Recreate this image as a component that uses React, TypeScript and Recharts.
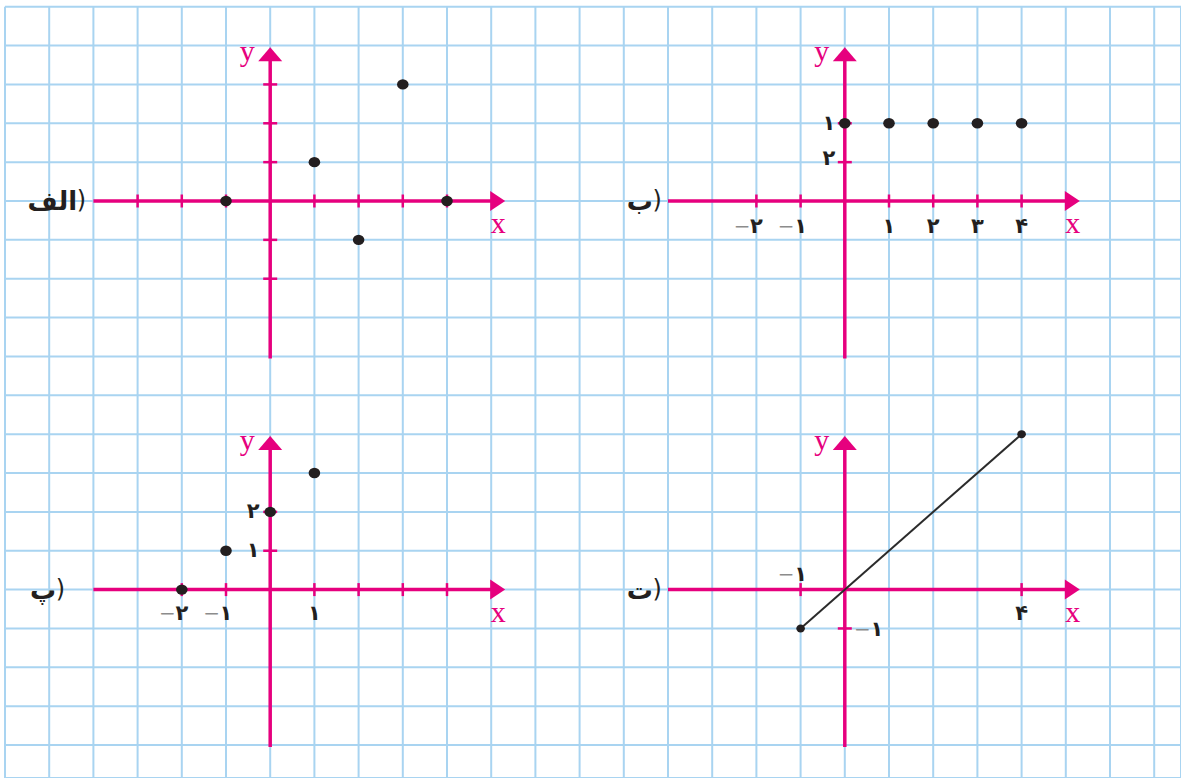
import {
  ScatterChart,
  Scatter,
  XAxis,
  YAxis,
  CartesianGrid,
  ReferenceLine,
  ReferenceDot,
} from "recharts";

// squared paper: one tick per grid line (cell index)
const GRID_COLS = [0, 1, 2, 3, 4, 5, 6, 7, 8, 9, 10, 11, 12, 13, 14, 15, 16, 17, 18, 19, 20, 21, 22, 23, 24, 25, 26];
const GRID_ROWS = [0, 1, 2, 3, 4, 5, 6, 7, 8, 9, 10, 11, 12, 13, 14, 15, 16, 17, 18, 19];

// (الف)
const ALEF_X = [-1, 1, 2, 3, 4];
const ALEF_Y = [0, 1, -1, 3, 0];
const ALEF_X_TICKS = [-3, -2, -1, 1, 2, 3, 4];
const ALEF_Y_TICKS = [-2, -1, 1, 2, 3];

// (ب)
const BE_X = [0, 1, 2, 3, 4];
const BE_Y = [2, 2, 2, 2, 2];
const BE_X_TICKS = [-2, -1, 1, 2, 3, 4];
const BE_X_LABELS = ["−۲", "−۱", "۱", "۲", "۳", "۴"];
const BE_Y_TICKS = [1, 2];
const BE_Y_LABELS = ["۲", "۱"];

// (پ)
const PE_X = [-2, -1, 0, 1];
const PE_Y = [0, 1, 2, 3];
const PE_X_TICKS = [-2, -1, 1, 2, 3, 4];
const PE_X_LABEL_AT = [-2, -1, 1];
const PE_X_LABELS = ["−۲", "−۱", "۱"];
const PE_Y_TICKS = [1, 2];
const PE_Y_LABELS = ["۱", "۲"];

// (ت) segment
const TE_X = [-1, 4];
const TE_Y = [-1, 4];
const TE_X_TICKS = [-1, 4];
const TE_X_LABELS = ["−۱", "۴"];
const TE_Y_TICKS = [-1];
const TE_Y_LABELS = ["−۱"];

const W = 1181;
const H = 778;
const CELL_W = 44.2;
const CELL_H = 38.86;
const MARGIN = { top: 6.7, right: 0, bottom: 0, left: 5 };

const PINK = "#e6007e";
const GRID = "#a9d4f1";
const INK = "#231f20";
const MINUS = "#8c8c8c";
const DIGIT_FONT = "'DejaVu Sans', sans-serif";

// axis extent in panel units
const AXIS_MIN = -4;
const X_ARROW = 5;
const Y_ARROW = 3.62;
const Y_MIN = -4.05;

type Label = { at: number; text: string; dx: number; dy: number };

type Panel = {
  name: string;
  col: number;
  row: number;
  nameDx: number;
  xs: number[];
  ys: number[];
  xTicks: number[];
  yTicks: number[];
  xLabels: Label[];
  yLabels: Label[];
  line?: boolean;
  dotRx: number;
  dotRy: number;
};

const PANELS: Panel[] = [
  {
    name: "الف",
    col: 6,
    row: 5,
    nameDx: -184,
    xs: ALEF_X,
    ys: ALEF_Y,
    xTicks: ALEF_X_TICKS,
    yTicks: ALEF_Y_TICKS,
    xLabels: [],
    yLabels: [],
    dotRx: 5.8,
    dotRy: 5.2,
  },
  {
    name: "ب",
    col: 19,
    row: 5,
    nameDx: -183,
    xs: BE_X,
    ys: BE_Y,
    xTicks: BE_X_TICKS,
    yTicks: BE_Y_TICKS,
    xLabels: BE_X_TICKS.map((at, i) => ({ at, text: BE_X_LABELS[i], dx: 0, dy: 25 })),
    yLabels: BE_Y_TICKS.map((at, i) => ({ at, text: BE_Y_LABELS[i], dx: -16, dy: i === 0 ? -4 : 0 })),
    dotRx: 5.8,
    dotRy: 5.2,
  },
  {
    name: "پ",
    col: 6,
    row: 15,
    nameDx: -205,
    xs: PE_X,
    ys: PE_Y,
    xTicks: PE_X_TICKS,
    yTicks: PE_Y_TICKS,
    xLabels: PE_X_LABEL_AT.map((at, i) => ({ at, text: PE_X_LABELS[i], dx: 0, dy: 23 })),
    yLabels: PE_Y_TICKS.map((at, i) => ({ at, text: PE_Y_LABELS[i], dx: -17, dy: -1 })),
    dotRx: 5.8,
    dotRy: 5.2,
  },
  {
    name: "ت",
    col: 19,
    row: 15,
    nameDx: -183,
    xs: TE_X,
    ys: TE_Y,
    xTicks: TE_X_TICKS,
    yTicks: TE_Y_TICKS,
    xLabels: TE_X_TICKS.map((at, i) => ({ at, text: TE_X_LABELS[i], dx: 0, dy: at < 0 ? -16 : 23 })),
    yLabels: TE_Y_TICKS.map((at, i) => ({ at, text: TE_Y_LABELS[i], dx: 32, dy: 1 })),
    line: true,
    dotRx: 4.3,
    dotRy: 4,
  },
];

function digitLabel(text: string, dx: number, dy: number) {
  return (p: any) => {
    const neg = text.startsWith("−");
    const digit = neg ? text.slice(1) : text;
    const x = p.cx + dx;
    const y = p.cy + dy;
    return (
      <g>
        {neg && (
          <text x={x - 6} y={y} textAnchor="end" dominantBaseline="central" fontFamily={DIGIT_FONT} fontSize={20} fill={MINUS}>
            −
          </text>
        )}
        <text x={x} y={y} textAnchor="middle" dominantBaseline="central" fontFamily={DIGIT_FONT} fontWeight="bold" fontSize={21} fill={INK}>
          {digit}
        </text>
      </g>
    );
  };
}

const xTick = (p: any) => (
  <line x1={p.cx} x2={p.cx} y1={p.cy - 6.5} y2={p.cy + 6.5} stroke={PINK} strokeWidth={2.5} />
);
const yTick = (p: any) => (
  <line x1={p.cx - 7} x2={p.cx + 7} y1={p.cy} y2={p.cy} stroke={PINK} strokeWidth={2.5} />
);
const xArrow = (p: any) => (
  <polygon points={`${p.cx - 1},${p.cy - 10} ${p.cx + 14},${p.cy} ${p.cx - 1},${p.cy + 10}`} fill={PINK} />
);
const yArrow = (p: any) => (
  <polygon points={`${p.cx - 12},${p.cy + 1} ${p.cx},${p.cy - 13} ${p.cx + 12},${p.cy + 1}`} fill={PINK} />
);

function renderPanel(p: Panel, k: number) {
  const c = (x: number) => p.col + x;
  const r = (y: number) => p.row - y;
  const items: any[] = [];
  items.push(
    <ReferenceLine
      key={`xa${k}`}
      segment={[{ x: c(AXIS_MIN), y: r(0) }, { x: c(X_ARROW), y: r(0) }]}
      stroke={PINK}
      strokeWidth={3.5}
    />,
    <ReferenceLine
      key={`ya${k}`}
      segment={[{ x: c(0), y: r(Y_MIN) }, { x: c(0), y: r(Y_ARROW) }]}
      stroke={PINK}
      strokeWidth={3.5}
    />,
    <ReferenceDot key={`xar${k}`} x={c(X_ARROW)} y={r(0)} r={0} shape={xArrow} />,
    <ReferenceDot key={`yar${k}`} x={c(0)} y={r(Y_ARROW)} r={0} shape={yArrow} />
  );
  p.xTicks.forEach((t) =>
    items.push(<ReferenceDot key={`xt${k}_${t}`} x={c(t)} y={r(0)} r={0} shape={xTick} />)
  );
  p.yTicks.forEach((t) =>
    items.push(<ReferenceDot key={`yt${k}_${t}`} x={c(0)} y={r(t)} r={0} shape={yTick} />)
  );
  return items;
}

function renderLabels(p: Panel, k: number) {
  const c = (x: number) => p.col + x;
  const r = (y: number) => p.row - y;
  const items: any[] = [];
  items.push(
    <ReferenceDot
      key={`nm${k}`}
      x={c(0)}
      y={r(0)}
      r={0}
      shape={(q: any) => (
        <g fontFamily={DIGIT_FONT} fontWeight="bold" fontSize={26} fill={INK}>
          <text x={q.cx + p.nameDx - 9} y={q.cy} textAnchor="end" dominantBaseline="central">
            {p.name}
          </text>
          <text x={q.cx + p.nameDx} y={q.cy - 1} textAnchor="end" dominantBaseline="central" fontWeight="normal" fontSize={24}>
            )
          </text>
        </g>
      )}
    />,
    <ReferenceDot
      key={`xl${k}`}
      x={c(X_ARROW)}
      y={r(0)}
      r={0}
      shape={(q: any) => (
        <text x={q.cx + 7} y={q.cy + 32} textAnchor="middle" fontFamily="'Liberation Serif', serif" fontSize={30} fill={PINK}>
          x
        </text>
      )}
    />,
    <ReferenceDot
      key={`yl${k}`}
      x={c(0)}
      y={r(Y_ARROW)}
      r={0}
      shape={(q: any) => (
        <text x={q.cx - 23} y={q.cy + 1} textAnchor="middle" fontFamily="'Liberation Serif', serif" fontSize={30} fill={PINK}>
          y
        </text>
      )}
    />
  );
  p.xLabels.forEach((l) =>
    items.push(<ReferenceDot key={`xlb${k}_${l.at}`} x={c(l.at)} y={r(0)} r={0} shape={digitLabel(l.text, l.dx, l.dy)} />)
  );
  p.yLabels.forEach((l) =>
    items.push(<ReferenceDot key={`ylb${k}_${l.at}`} x={c(0)} y={r(l.at)} r={0} shape={digitLabel(l.text, l.dx, l.dy)} />)
  );
  return items;
}

export default function App() {
  return (
    <div style={{ position: "absolute", left: 0, top: 0, width: W, height: H, background: "#fff" }}>
      <ScatterChart width={W} height={H} margin={MARGIN}>
        <XAxis
          type="number"
          dataKey="col"
          domain={[0, (W - MARGIN.left) / CELL_W]}
          ticks={GRID_COLS}
          allowDataOverflow
          hide
        />
        <YAxis
          type="number"
          dataKey="row"
          domain={[0, (H - MARGIN.top) / CELL_H]}
          ticks={GRID_ROWS}
          reversed
          allowDataOverflow
          hide
        />
        <CartesianGrid stroke={GRID} strokeWidth={2} />
        {PANELS.map((p, k) => renderPanel(p, k))}
        {PANELS.map((p, k) => (
          <Scatter
            key={`s${k}`}
            data={p.xs.map((x, i) => ({ col: p.col + x, row: p.row - p.ys[i] }))}
            fill={INK}
            line={p.line ? { stroke: "#2b2b2b", strokeWidth: 2 } : false}
            shape={(q: any) => <ellipse cx={q.cx} cy={q.cy} rx={p.dotRx} ry={p.dotRy} fill={INK} />}
            isAnimationActive={false}
          />
        ))}
        {PANELS.map((p, k) => renderLabels(p, k))}
      </ScatterChart>
    </div>
  );
}
